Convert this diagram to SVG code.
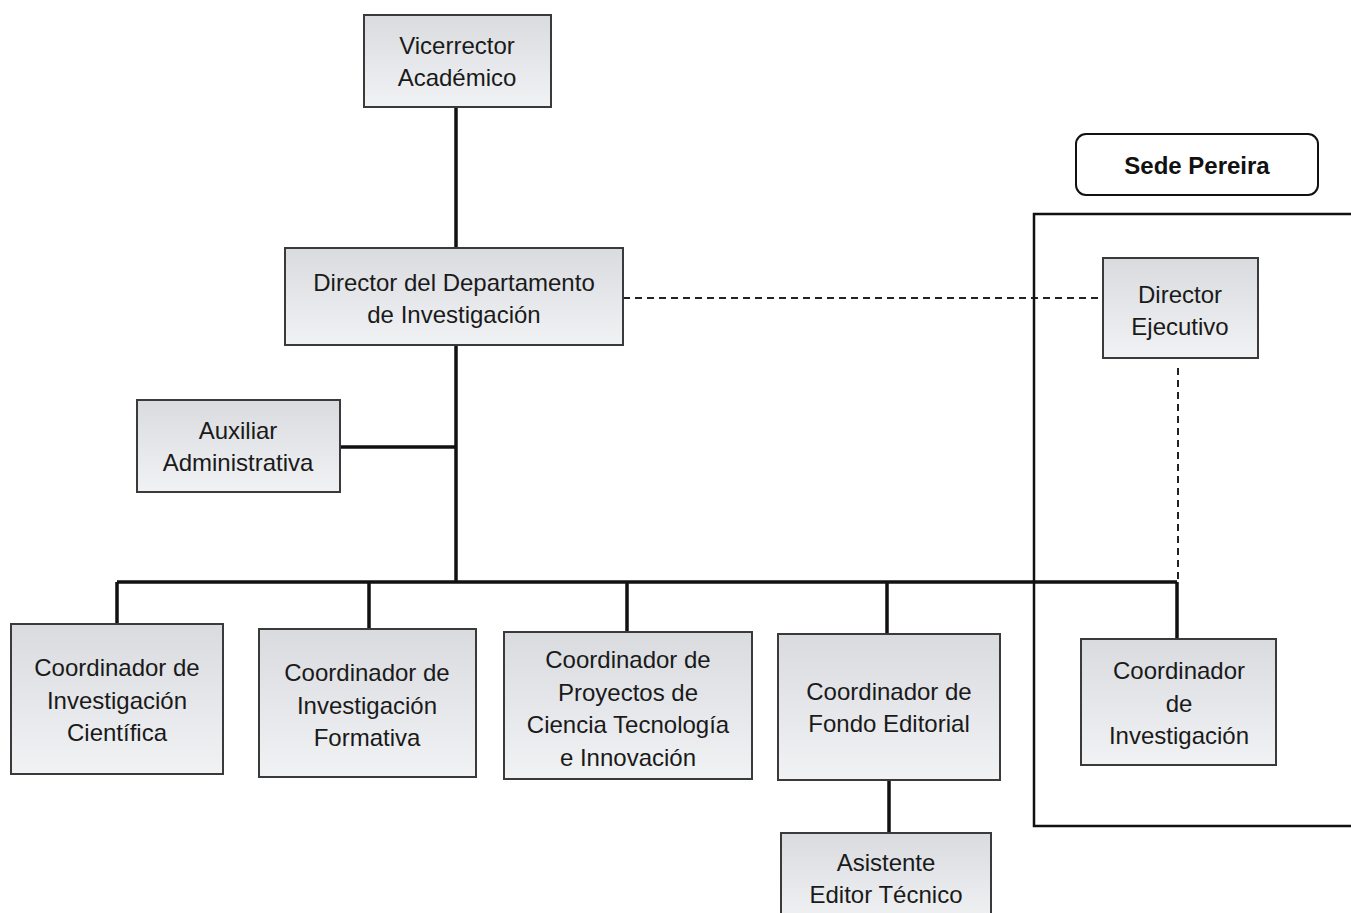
<svg xmlns="http://www.w3.org/2000/svg" width="1351" height="913" viewBox="0 0 1351 913">
<defs>
<linearGradient id="g" x1="0" y1="0" x2="0" y2="1">
<stop offset="0" stop-color="#d9dbdf"/>
<stop offset="1" stop-color="#f1f2f4"/>
</linearGradient>
<style>
.box{fill:url(#g);stroke:#3a3a3a;stroke-width:2}
.t{font-family:"Liberation Sans",Arial,sans-serif;font-size:24px;fill:#1a1a1a;text-anchor:middle}
.b{font-family:"Liberation Sans",Arial,sans-serif;font-size:24px;font-weight:bold;fill:#111;text-anchor:middle}
.ln{stroke:#111;stroke-width:3.5;fill:none}
.dash{stroke:#222;stroke-width:2;fill:none;stroke-dasharray:7,5}
</style>
</defs>
<rect width="1351" height="913" fill="#ffffff"/>
<g id="connectors">
<path class="ln" d="M456 107V248M456 345V582M340 447H456M117 582H1177M117 582V624M369 582V629M627 582V632M887 582V634M1177 582V639M889 780V833"/>
<path class="dash" d="M623 298H1103M1178 368V580"/>
</g>
<g id="sede-frame">
<path d="M1351 214H1034V826H1351" fill="none" stroke="#111" stroke-width="2.5"/>
</g>
<g id="sede-pereira">
<rect x="1076" y="134" width="242" height="61" rx="10" fill="#fff" stroke="#111" stroke-width="2"/>
<text class="b" x="1197" y="174">Sede Pereira</text>
</g>
<g id="vicerrector">
<rect class="box" x="364" y="15" width="187" height="92"/>
<text class="t" x="457" y="54">Vicerrector</text>
<text class="t" x="457" y="86">Académico</text>
</g>
<g id="director">
<rect class="box" x="285" y="248" width="338" height="97"/>
<text class="t" x="454" y="291">Director del Departamento</text>
<text class="t" x="454" y="323">de Investigación</text>
</g>
<g id="auxiliar">
<rect class="box" x="137" y="400" width="203" height="92"/>
<text class="t" x="238" y="439">Auxiliar</text>
<text class="t" x="238" y="471">Administrativa</text>
</g>
<g id="director-ejecutivo">
<rect class="box" x="1103" y="258" width="155" height="100"/>
<text class="t" x="1180" y="303">Director</text>
<text class="t" x="1180" y="335">Ejecutivo</text>
</g>
<g id="coord-cientifica">
<rect class="box" x="11" y="624" width="212" height="150"/>
<text class="t" x="117" y="676">Coordinador de</text>
<text class="t" x="117" y="709">Investigación</text>
<text class="t" x="117" y="741">Científica</text>
</g>
<g id="coord-formativa">
<rect class="box" x="259" y="629" width="217" height="148"/>
<text class="t" x="367" y="681">Coordinador de</text>
<text class="t" x="367" y="714">Investigación</text>
<text class="t" x="367" y="746">Formativa</text>
</g>
<g id="coord-proyectos">
<rect class="box" x="504" y="632" width="248" height="147"/>
<text class="t" x="628" y="668">Coordinador de</text>
<text class="t" x="628" y="701">Proyectos de</text>
<text class="t" x="628" y="733">Ciencia Tecnología</text>
<text class="t" x="628" y="766">e Innovación</text>
</g>
<g id="coord-fondo">
<rect class="box" x="778" y="634" width="222" height="146"/>
<text class="t" x="889" y="700">Coordinador de</text>
<text class="t" x="889" y="732">Fondo Editorial</text>
</g>
<g id="coord-investigacion">
<rect class="box" x="1081" y="639" width="195" height="126"/>
<text class="t" x="1179" y="679">Coordinador</text>
<text class="t" x="1179" y="712">de</text>
<text class="t" x="1179" y="744">Investigación</text>
</g>
<g id="asistente">
<rect class="box" x="781" y="833" width="210" height="90"/>
<text class="t" x="886" y="871">Asistente</text>
<text class="t" x="886" y="903">Editor Técnico</text>
</g>
</svg>
